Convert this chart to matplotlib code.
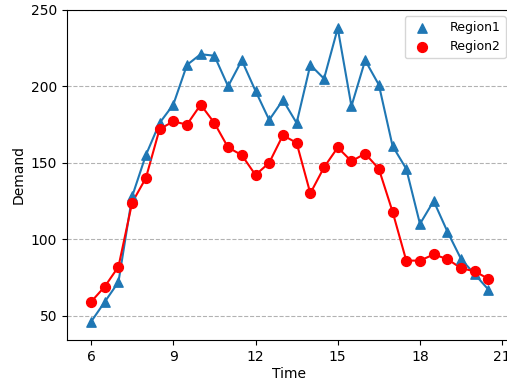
import matplotlib
matplotlib.use("Agg")
import matplotlib.pyplot as plt
import numpy as np

# time in hours, half-hour steps
time = [6, 6.5, 7, 7.5, 8, 8.5, 9, 9.5, 10, 10.5, 11, 11.5, 12, 12.5, 13,
        13.5, 14, 14.5, 15, 15.5, 16, 16.5, 17, 17.5, 18, 18.5, 19, 19.5, 20, 20.5]

region1 = [46, 59, 72, 128, 155, 176, 188, 214, 221, 220, 200, 217, 197, 178, 191,
           176, 214, 205, 238, 187, 217, 201, 161, 146, 110, 125, 105, 87, 77, 67]

region2 = [59, 69, 82, 124, 140, 172, 177, 175, 188, 176, 160, 155, 142, 150, 168,
           163, 130, 147, 160, 151, 156, 146, 118, 86, 86, 90, 87, 81, 79, 74]

xticks = [6, 9, 12, 15, 18, 21]
yticks = [50, 100, 150, 200, 250]

fig = plt.figure(figsize=(5.07, 3.8), dpi=100)
ax = fig.add_axes([0.132, 0.105, 0.878, 0.869])

ax.plot(time, region1, color="#1f77b4", zorder=2)
ax.scatter(time, region1, marker="^", color="#1f77b4", s=45, label="Region1", zorder=3)
ax.plot(time, region2, color="red", zorder=2)
ax.scatter(time, region2, marker="o", color="red", s=50, label="Region2", zorder=3)

ax.set_xlim(5.12, 21.36)
ax.set_ylim(34, 250)
ax.set_xticks(xticks)
ax.set_yticks(yticks)
ax.tick_params(labelsize=10)
ax.yaxis.grid(True, linestyle="--", color="gray", alpha=0.6)
ax.set_axisbelow(True)

ax.set_xlabel("Time", fontsize=10, labelpad=2)
ax.set_ylabel("Demand", fontsize=10)
ax.legend(loc="upper right", fontsize=9, handletextpad=1.2)

fig.savefig("out.png", dpi=100)
